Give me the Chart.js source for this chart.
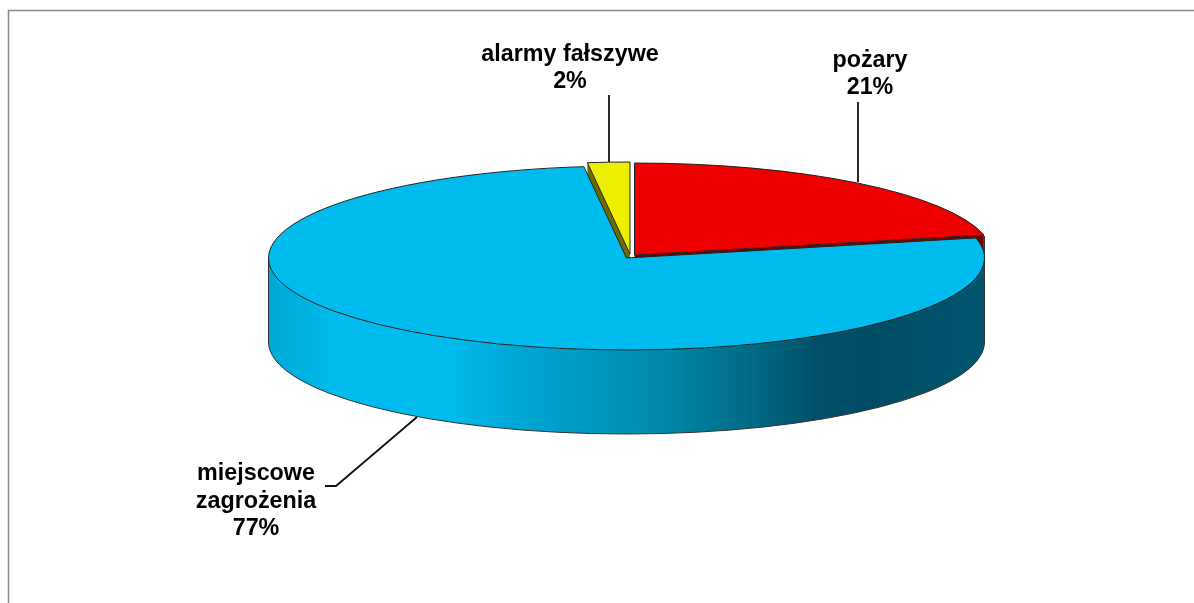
<!DOCTYPE html>
<html><head><meta charset="utf-8">
<style>html,body{margin:0;padding:0;background:#fff}canvas{display:block}</style>
<script src="https://cdn.jsdelivr.net/npm/chart.js@4"></script>
</head><body><canvas id="c" width="1194" height="603"></canvas>
<script>
const categories = ['pożary', 'miejscowe zagrożenia', 'alarmy fałszywe'];
const seriesValues = [21.5, 76.6, 1.9];
const percentLabels = ['21%', '77%', '2%'];
const sliceColors = ['#ee0000', '#00bcee', '#eeee00'];
const faceColors = ['#7a0000', null, '#6b6b00'];

const labelLines = [['pożary', percentLabels[0]], ['miejscowe', 'zagrożenia', percentLabels[1]], ['alarmy fałszywe', percentLabels[2]]];

const CX = 626.5, CY = 258, RX = 358, RY = 92, DEPTH = 84;
const explode = [[8, -3], [0, 0], [3.5, -4]];
const labelPos = [[870, 67, 27], [256, 480, 27.5], [570, 61, 27]];
const leaders = [
  [[858, 102], [858, 182]],
  [[325, 486], [336, 486], [417, 417]],
  [[609, 95], [609, 162]]
];

const wallStops = [[0, '#00a8d4'], [0.1, '#00bcee'], [0.25, '#00bcee'], [0.34, '#00a8d6'], [0.515, '#0090b4'], [0.64, '#00738f'], [0.77, '#005068'], [0.835, '#004c64'], [1, '#00566e']];

function screenPoint(el, a) {
  const c = screenCenter(el);
  return [c[0] + Math.cos(a) * RX, c[1] + Math.sin(a) * RY];
}
function screenCenter(el) {
  const sx = RX / el.outerRadius, sy = RY / el.outerRadius;
  return [CX + (el.x - CX) * sx, CY + (el.y - CY) * sy];
}

const pie3d = {
  id: 'pie3d',
  afterDatasetUpdate(chart) {
    const els = chart.getDatasetMeta(0).data;
    els.forEach((el, i) => {
      const sx = RX / el.outerRadius, sy = RY / el.outerRadius;
      el.x = CX + explode[i][0] / sx;
      el.y = CY + explode[i][1] / sy;
    });
  },
  beforeDatasetsDraw(chart) {
    const ctx = chart.ctx, els = chart.getDatasetMeta(0).data;
    const blue = els[1];
    ctx.save();
    // visible cut faces of the exploded slices
    els.forEach((el, i) => {
      if (!faceColors[i]) return;
      const c = screenCenter(el);
      const a = i === 0 ? el.endAngle : el.startAngle;
      const p = screenPoint(el, a);
      ctx.beginPath();
      ctx.moveTo(c[0], c[1]);
      ctx.lineTo(p[0], p[1]);
      ctx.lineTo(p[0], p[1] + DEPTH);
      ctx.lineTo(c[0], c[1] + DEPTH);
      ctx.closePath();
      ctx.fillStyle = faceColors[i];
      ctx.fill();
    });
    // outer wall of the large slice
    const g = ctx.createLinearGradient(CX - RX, 0, CX + RX, 0);
    wallStops.forEach(s => g.addColorStop(s[0], s[1]));
    ctx.beginPath();
    ctx.ellipse(CX, CY, RX, RY, 0, 0, Math.PI);
    ctx.lineTo(CX - RX, CY + DEPTH);
    ctx.ellipse(CX, CY + DEPTH, RX, RY, 0, Math.PI, 0, true);
    ctx.closePath();
    ctx.fillStyle = g;
    ctx.fill();
    ctx.lineWidth = 1;
    ctx.strokeStyle = '#333';
    ctx.beginPath();
    ctx.moveTo(CX - RX, CY);
    ctx.lineTo(CX - RX, CY + DEPTH);
    ctx.ellipse(CX, CY + DEPTH, RX, RY, 0, Math.PI, 0, true);
    ctx.lineTo(CX + RX, CY + 60);
    ctx.stroke();
    ctx.beginPath();
    ctx.moveTo(CX + RX, CY - 22);
    ctx.lineTo(CX + RX, CY + 60);
    ctx.stroke();
    ctx.restore();
    // squash the circular pie into the ellipse for the library's own arcs
    ctx.save();
    ctx.translate(CX, CY);
    ctx.scale(RX / blue.outerRadius, RY / blue.outerRadius);
    ctx.translate(-CX, -CY);
  },
  afterDatasetsDraw(chart) {
    const ctx = chart.ctx, els = chart.getDatasetMeta(0).data;
    ctx.restore();
    // thin outlines
    els.forEach(el => {
      const c = screenCenter(el);
      ctx.beginPath();
      ctx.moveTo(c[0], c[1]);
      ctx.ellipse(c[0], c[1], RX, RY, 0, el.startAngle, el.endAngle);
      ctx.closePath();
      ctx.lineWidth = 1;
      ctx.strokeStyle = '#222';
      ctx.stroke();
    });
    // leader lines
    ctx.lineWidth = 1.8;
    ctx.strokeStyle = '#111';
    leaders.forEach(l => {
      ctx.beginPath();
      l.forEach((p, j) => j ? ctx.lineTo(p[0], p[1]) : ctx.moveTo(p[0], p[1]));
      ctx.stroke();
    });
    // data labels
    ctx.fillStyle = '#000';
    ctx.font = 'bold 23.3px "Liberation Sans", Arial, sans-serif';
    ctx.textAlign = 'center';
    ctx.textBaseline = 'alphabetic';
    labelLines.forEach((lines, i) => {
      lines.forEach((t, j) => ctx.fillText(t, labelPos[i][0], labelPos[i][1] + j * labelPos[i][2]));
    });
    // frame
    ctx.strokeStyle = '#8a8a8a';
    ctx.lineWidth = 1.5;
    ctx.beginPath();
    ctx.moveTo(8.5, 603);
    ctx.lineTo(8.5, 10.5);
    ctx.lineTo(1194, 10.5);
    ctx.stroke();
  }
};

new Chart(document.getElementById('c'), {
  type: 'pie',
  data: { labels: categories, datasets: [{ data: seriesValues, backgroundColor: sliceColors, borderWidth: 0 }] },
  options: {
    responsive: false,
    animation: false,
    rotation: 0,
    layout: { padding: { left: 59, right: 0, top: 0, bottom: 87 } },
    plugins: { legend: { display: false }, tooltip: { enabled: false } }
  },
  plugins: [pie3d]
});
</script></body></html>
